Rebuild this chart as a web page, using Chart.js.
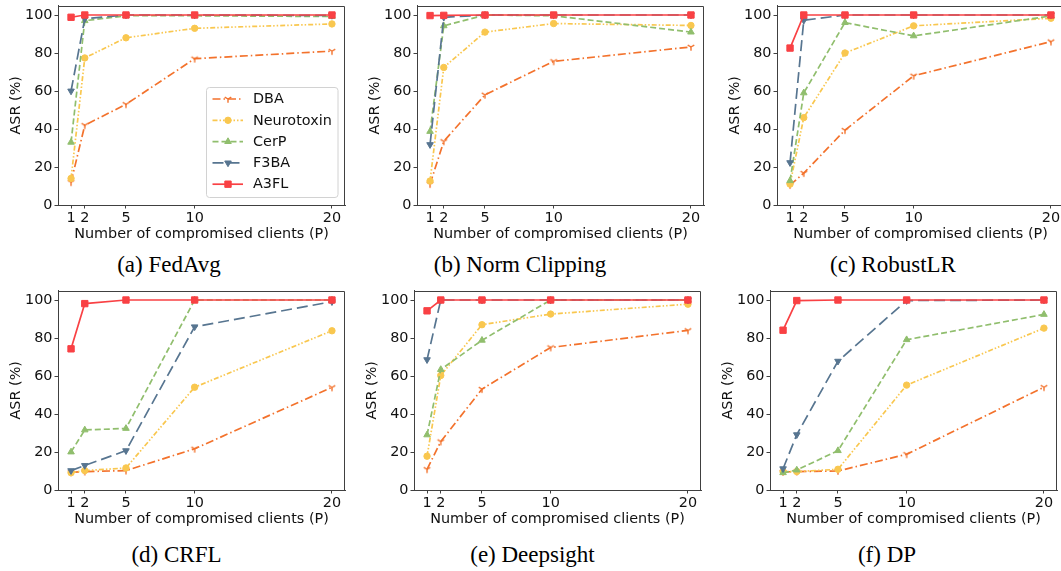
<!DOCTYPE html>
<html>
<head>
<meta charset="utf-8">
<script src="https://cdn.jsdelivr.net/npm/chart.js@4.4.1/dist/chart.umd.min.js"></script>
<style>
  html, body { margin: 0; padding: 0; background: #fff; }
  body { width: 1061px; height: 571px; position: relative; overflow: hidden; }
  canvas.panel { position: absolute; }
  .caption {
    position: absolute;
    font-family: "Liberation Serif", "Times New Roman", serif;
    font-size: 23px;
    line-height: 1;
    white-space: nowrap;
    transform: translate(-50%, -50%);
    color: #000;
  }
</style>
</head>
<body>
<script>
// Number of compromised clients on the x axis
const clients = [1, 2, 5, 10, 20];
const xTickValues = [1, 2, 5, 10, 20];
const yTickValues = [0, 20, 40, 60, 80, 100];
const methods = ['DBA', 'Neurotoxin', 'CerP', 'F3BA', 'A3FL'];
const captions = ['(a) FedAvg', '(b) Norm Clipping', '(c) RobustLR', '(d) CRFL', '(e) Deepsight', '(f) DP'];

// Attack success rate (%) under each defense
const fedAvgDBA        = [12, 42, 53, 77, 81];
const fedAvgNeurotoxin = [14, 77.4, 88, 93, 95.3];
const fedAvgCerP       = [33, 97, 99.6, 99.6, 99.2];
const fedAvgF3BA       = [60, 98, 100, 100, 99.8];
const fedAvgA3FL       = [98.8, 100, 100, 100, 100];

const normClipDBA        = [11, 33.5, 58, 75.6, 83.2];
const normClipNeurotoxin = [12.6, 72.4, 91, 95.5, 94.5];
const normClipCerP       = [38.7, 94.3, 100, 99.6, 91];
const normClipF3BA       = [31.8, 98.8, 100, 100, 100];
const normClipA3FL       = [99.7, 99.8, 100, 100, 100];

const robustLRDBA        = [10.5, 16.8, 39.4, 68, 86];
const robustLRNeurotoxin = [11, 46, 80, 94.3, 98.3];
const robustLRCerP       = [12.8, 59, 96, 89, 99.5];
const robustLRF3BA       = [22.3, 97.2, 100, 100, 100];
const robustLRA3FL       = [82.6, 100, 100, 100, 100];

const crflDBA        = [9.3, 9.7, 10.2, 21.7, 54];
const crflNeurotoxin = [9.1, 10.2, 11.6, 54.1, 83.8];
const crflCerP       = [20, 31.6, 32.4, 100, 100];
const crflF3BA       = [10.2, 12.9, 20.7, 85.9, 99.1];
const crflA3FL       = [74.3, 98.1, 100, 100, 100];

const deepsightDBA        = [10.9, 25.5, 53.1, 75, 84];
const deepsightNeurotoxin = [17.8, 60.3, 87, 92.6, 97.8];
const deepsightCerP       = [29, 63.4, 78.8, 100, 100];
const deepsightF3BA       = [68.6, 100, 100, 100, 100];
const deepsightA3FL       = [94.3, 100, 100, 100, 100];

const dpDBA        = [9.5, 9.7, 10, 18.8, 54.1];
const dpNeurotoxin = [9.7, 9.7, 10.9, 55.2, 85.2];
const dpCerP       = [9.1, 10.5, 20.7, 79.1, 92.4];
const dpF3BA       = [11.2, 29.1, 67.8, 99.7, 100];
const dpA3FL       = [84.1, 99.7, 100, 100, 100];

const panelSeries = [
  [fedAvgDBA, fedAvgNeurotoxin, fedAvgCerP, fedAvgF3BA, fedAvgA3FL],
  [normClipDBA, normClipNeurotoxin, normClipCerP, normClipF3BA, normClipA3FL],
  [robustLRDBA, robustLRNeurotoxin, robustLRCerP, robustLRF3BA, robustLRA3FL],
  [crflDBA, crflNeurotoxin, crflCerP, crflF3BA, crflA3FL],
  [deepsightDBA, deepsightNeurotoxin, deepsightCerP, deepsightF3BA, deepsightA3FL],
  [dpDBA, dpNeurotoxin, dpCerP, dpF3BA, dpA3FL]
];

// ---- styling ----
const axisColor = '#404040';
const textColor = '#111';
const fontFamily = 'DejaVu Sans';
const fontSize = 14.4;
Chart.defaults.font.family = fontFamily;
Chart.defaults.font.size = fontSize;
const baseFont = { family: fontFamily, size: fontSize };

function makeTriDown(color, r) {
  const s = Math.ceil(r * 2 + 4);
  const c = document.createElement('canvas');
  c.width = s; c.height = s;
  const g = c.getContext('2d');
  g.strokeStyle = color;
  g.lineWidth = 1.4;
  const cx = s / 2, cy = s / 2;
  g.beginPath();
  g.moveTo(cx, cy); g.lineTo(cx, cy + r);
  g.moveTo(cx, cy); g.lineTo(cx - r * 0.866, cy - r * 0.5);
  g.moveTo(cx, cy); g.lineTo(cx + r * 0.866, cy - r * 0.5);
  g.stroke();
  return c;
}

const methodStyles = [
  { color: '#f3722c', dash: [8, 3, 1.5, 3],          pointStyle: makeTriDown('#f3722c', 3.8), radius: 4.2, rotation: 0 },
  { color: '#f9c74f', dash: [5, 2, 1.5, 2, 1.5, 2],  pointStyle: 'circle',   radius: 3.2, rotation: 0 },
  { color: '#90be6d', dash: [6, 3],                  pointStyle: 'triangle', radius: 3.8, rotation: 0 },
  { color: '#577590', dash: [11, 5],                 pointStyle: 'triangle', radius: 3.8, rotation: 180 },
  { color: '#f94144', dash: [],                      pointStyle: 'rect',     radius: 4.5, rotation: 0 }
];

// plot-area origin of each panel and its caption centre
const panelLayout = [
  { left: 58,    top: 2,   capX: 169,   capY: 263.5 },
  { left: 417.3, top: 2,   capX: 520,   capY: 263.5 },
  { left: 776.5, top: 2,   capX: 893,   capY: 263.5 },
  { left: 58,    top: 287, capX: 176.5, capY: 554 },
  { left: 414.3, top: 287, capX: 532.5, capY: 554 },
  { left: 769.7, top: 287, capX: 887,   capY: 554 }
];
const yAxisWidth = 58, xAxisHeight = 40, padTop = 2, padRight = 6;
const plotW = 287, plotH = 203;

const framePlugin = {
  id: 'frame',
  afterDatasetsDraw(chart) {
    const { ctx, chartArea: a } = chart;
    ctx.save();
    ctx.strokeStyle = axisColor;
    ctx.lineWidth = 1;
    const top = Math.round(a.top) + 0.5;
    const right = Math.round(a.right) - 0.5;
    ctx.beginPath();
    ctx.moveTo(Math.round(a.left), top);
    ctx.lineTo(right, top);
    ctx.lineTo(right, Math.round(a.bottom));
    ctx.stroke();
    ctx.restore();
  }
};

const legendPlugin = {
  id: 'lineLegend',
  afterDraw(chart) {
    const ctx = chart.ctx;
    const box = { x: 206.5, y: 87.5, w: 131.5, h: 110 };
    ctx.save();
    ctx.fillStyle = 'rgba(255,255,255,0.85)';
    ctx.strokeStyle = '#d2d2d2';
    ctx.lineWidth = 1;
    ctx.beginPath();
    ctx.roundRect(box.x, box.y, box.w, box.h, 3);
    ctx.fill();
    ctx.stroke();
    chart.data.datasets.forEach((ds, i) => {
      const y = 99 + i * 21.3;
      ctx.strokeStyle = ds.borderColor;
      ctx.lineWidth = ds.borderWidth;
      ctx.setLineDash(ds.borderDash);
      ctx.beginPath();
      ctx.moveTo(212.5, y);
      ctx.lineTo(243, y);
      ctx.stroke();
      ctx.setLineDash([]);
      ctx.fillStyle = ds.pointBackgroundColor;
      ctx.strokeStyle = ds.pointBorderColor;
      ctx.lineWidth = 1;
      Chart.helpers.drawPoint(ctx, {
        pointStyle: ds.pointStyle, radius: ds.pointRadius,
        rotation: ds.pointRotation, borderWidth: 1
      }, 228, y);
      ctx.fillStyle = textColor;
      ctx.font = fontSize + 'px ' + fontFamily;
      ctx.textBaseline = 'middle';
      ctx.textAlign = 'left';
      ctx.fillText(ds.label, 253, y + 0.5);
    });
    ctx.restore();
  }
};

panelSeries.forEach((series, p) => {
  const lay = panelLayout[p];
  const canvas = document.createElement('canvas');
  canvas.className = 'panel';
  const cw = yAxisWidth + plotW + padRight;
  const ch = padTop + plotH + xAxisHeight;
  canvas.width = cw; canvas.height = ch;
  canvas.style.width = cw + 'px';
  canvas.style.height = ch + 'px';
  canvas.style.left = (lay.left - yAxisWidth) + 'px';
  canvas.style.top = (lay.top - padTop) + 'px';
  document.body.appendChild(canvas);

  const cap = document.createElement('div');
  cap.className = 'caption';
  cap.textContent = captions[p];
  cap.style.left = lay.capX + 'px';
  cap.style.top = lay.capY + 'px';
  document.body.appendChild(cap);

  const datasets = series.map((vals, m) => {
    const st = methodStyles[m];
    return {
      label: methods[m],
      data: clients.map((x, i) => ({ x: x, y: vals[i] })),
      borderColor: st.color,
      backgroundColor: st.color,
      borderWidth: 1.7,
      borderDash: st.dash,
      pointStyle: st.pointStyle,
      pointRadius: st.radius,
      pointRotation: st.rotation,
      pointBackgroundColor: st.color,
      pointBorderColor: st.color,
      pointBorderWidth: 1,
      tension: 0,
      fill: false,
      clip: false,
      order: methods.length - m
    };
  });

  new Chart(canvas, {
    type: 'line',
    data: { datasets },
    plugins: p === 0 ? [framePlugin, legendPlugin] : [framePlugin],
    options: {
      responsive: false,
      animation: false,
      devicePixelRatio: 1,
      layout: { padding: { top: padTop, right: padRight, left: 0, bottom: 0 } },
      plugins: { legend: { display: false }, tooltip: { enabled: false } },
      scales: {
        x: {
          type: 'linear',
          min: 0.05,
          max: 20.95,
          afterBuildTicks: s => { s.ticks = xTickValues.map(v => ({ value: v })); },
          afterFit: s => {
            s.height = xAxisHeight;
            s.paddingLeft = 0; s.paddingRight = 0;
          },
          ticks: { font: baseFont, color: textColor, padding: 1, autoSkip: false, maxRotation: 0 },
          grid: { display: true, drawOnChartArea: false, drawTicks: true, tickLength: 3.5, color: axisColor, lineWidth: 1 },
          border: { display: true, color: axisColor, width: 1 },
          title: { display: true, text: 'Number of compromised clients (P)', font: baseFont, color: textColor, padding: { top: 0, bottom: 2 } }
        },
        y: {
          type: 'linear',
          min: 0,
          max: 105,
          afterBuildTicks: s => { s.ticks = yTickValues.map(v => ({ value: v })); },
          afterFit: s => {
            s.width = yAxisWidth;
            s.paddingTop = 0; s.paddingBottom = 0;
          },
          ticks: { font: baseFont, color: textColor, padding: 2 },
          grid: { display: true, drawOnChartArea: false, drawTicks: true, tickLength: 3.5, color: axisColor, lineWidth: 1 },
          border: { display: true, color: axisColor, width: 1 },
          title: { display: true, text: 'ASR (%)', font: baseFont, color: textColor, padding: { top: 8, bottom: 0 } }
        }
      }
    }
  });
});
</script>
</body>
</html>
